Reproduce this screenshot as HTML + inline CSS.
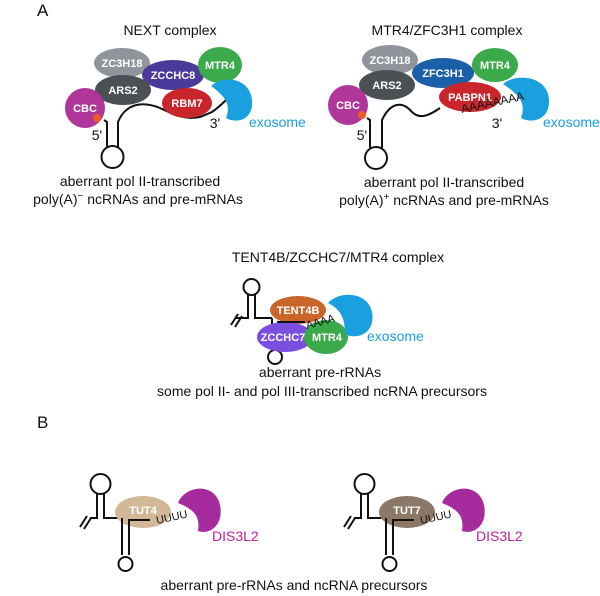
<!DOCTYPE html>
<html><head><meta charset="utf-8"><style>
html,body{margin:0;padding:0;background:#fff;}
svg{display:block;}
text{font-family:"Liberation Sans",Arial,sans-serif;}
.w{fill:#fff;font-weight:bold;font-size:11px;text-anchor:middle;}
.b{fill:#111;font-size:14px;text-anchor:middle;}
.ln{fill:none;stroke:#111;stroke-width:2;}
</style></head><body>
<svg width="600" height="596" viewBox="0 0 600 596" xmlns="http://www.w3.org/2000/svg">
<text x="37" y="16" font-size="17" fill="#111">A</text>
<text x="170" y="35" class="b">NEXT complex</text>
<text x="447" y="35" class="b">MTR4/ZFC3H1 complex</text>

<!-- NEXT -->
<path class="ln" d="M104,120 L107,122 L107,147 M118,147 L118,122 C125,105 140,100 160,108 C175,115 185,120 200,117 L212,112 C218,108 222,104 226,100"/>
<circle cx="112.5" cy="157" r="11" class="ln"/>
<ellipse cx="122" cy="63" rx="28" ry="15" fill="#8f959a"/>
<ellipse cx="173" cy="75" rx="31" ry="15" fill="#4b3a9c"/>
<ellipse cx="123" cy="90" rx="28" ry="15" fill="#4a5053"/>
<ellipse cx="220" cy="65" rx="22" ry="18" fill="#3aaa4a"/>
<ellipse cx="187" cy="103" rx="25" ry="15" fill="#c8262b"/>
<circle cx="85" cy="108" r="20" fill="#b0379a"/>
<circle cx="97" cy="118" r="4" fill="#f05a28"/>
<path d="M211,86 C223,75 246,78 251,95 C257,118 238,125 226,118 C231,105 226,97 211,86 Z" fill="#1aa0df"/>
<text x="122" y="67" class="w">ZC3H18</text>
<text x="173" y="79" class="w">ZCCHC8</text>
<text x="123" y="94" class="w">ARS2</text>
<text x="220" y="69" class="w">MTR4</text>
<text x="187" y="107" class="w">RBM7</text>
<text x="85" y="112" class="w">CBC</text>
<text x="215" y="128" font-size="14" text-anchor="middle" fill="#111">3'</text>
<text x="97" y="140" font-size="14" text-anchor="middle" fill="#111">5'</text>
<text x="249" y="127" font-size="14" fill="#1aa0df">exosome</text>
<text x="140" y="186" class="b">aberrant pol II-transcribed</text>
<text x="138" y="204" class="b">poly(A)<tspan font-size="10" dy="-5">−</tspan><tspan dy="5"> ncRNAs and pre-mRNAs</tspan></text>

<!-- MTR4/ZFC3H1 -->
<path class="ln" d="M367,118 L370,120 L370,148 M382,148 L382,120 C390,103 402,100 412,112 C420,120 430,115 440,108"/>
<circle cx="376" cy="158" r="11" class="ln"/>
<ellipse cx="390" cy="60" rx="28" ry="15" fill="#8f959a"/>
<ellipse cx="443" cy="73" rx="31" ry="15" fill="#1a5fa8"/>
<ellipse cx="387" cy="85" rx="28" ry="15" fill="#4a5053"/>
<ellipse cx="495" cy="65" rx="23" ry="17" fill="#3aaa4a"/>
<ellipse cx="470" cy="97" rx="31" ry="15" fill="#c8262b"/>
<circle cx="348" cy="105" r="20" fill="#b0379a"/>
<circle cx="362" cy="115" r="4" fill="#f05a28"/>
<path d="M503,84 C516,73 543,76 548,94 C554,118 533,125 521,118 C526,104 521,96 503,84 Z" fill="#1aa0df"/>
<text x="390" y="64" class="w">ZC3H18</text>
<text x="443" y="77" class="w">ZFC3H1</text>
<text x="387" y="89" class="w">ARS2</text>
<text x="495" y="69" class="w">MTR4</text>
<text x="470" y="101" class="w">PABPN1</text>
<text x="348" y="109" class="w">CBC</text>
<text x="462" y="113" font-size="12" fill="#111" transform="rotate(-12 462 113)">AAAAAAAA</text>
<text x="497" y="128" font-size="14" text-anchor="middle" fill="#111">3'</text>
<text x="362" y="140" font-size="14" text-anchor="middle" fill="#111">5'</text>
<text x="543" y="127" font-size="14" fill="#1aa0df">exosome</text>
<text x="444" y="187" class="b">aberrant pol II-transcribed</text>
<text x="444" y="205" class="b">poly(A)<tspan font-size="10" dy="-5">+</tspan><tspan dy="5"> ncRNAs and pre-mRNAs</tspan></text>

<!-- TENT4B -->
<text x="338" y="262" class="b">TENT4B/ZCCHC7/MTR4 complex</text>
<path class="ln" d="M248,295 L248,318 L236,318 M231,325 L238,314 M235,327 L242,316 M255,295 L255,318 L272,318 M272,318 L272,350 M278,350 L278,322 L308,322"/>
<circle cx="251.5" cy="287" r="8" class="ln"/>
<circle cx="275" cy="357" r="7" class="ln"/>
<ellipse cx="298" cy="310" rx="28" ry="14" fill="#c8662a"/>
<ellipse cx="285" cy="337" rx="28" ry="15" fill="#7a4fe0"/>
<ellipse cx="326" cy="337" rx="22" ry="17" fill="#3aaa4a"/>
<path d="M328,303 C340,290 368,292 372,312 C376,335 355,340 345,334 C345,320 342,310 328,303 Z" fill="#1aa0df"/>
<path class="ln" d="M278,322 L305,322"/>
<text x="298" y="314" class="w">TENT4B</text>
<text x="283" y="341" class="w">ZCCHC7</text>
<text x="327" y="341" class="w">MTR4</text>
<text x="307" y="329" font-size="11" fill="#111" transform="rotate(-15 307 329)">AAAA</text>
<text x="367" y="341" font-size="14" fill="#1aa0df">exosome</text>
<text x="320" y="377" class="b">aberrant pre-rRNAs</text>
<text x="322" y="396" class="b">some pol II- and pol III-transcribed ncRNA precursors</text>

<!-- B -->
<text x="37" y="428" font-size="17" fill="#111">B</text>
<g>
<path class="ln" d="M97,493 L97,518 L90,518 M80,527 L87,516 M84,529 L91,518 M104,493 L104,518 L122,518"/>
<circle cx="100.5" cy="484" r="10" class="ln"/>
<ellipse cx="143" cy="512" rx="28" ry="16" fill="#d2b896"/>
<path class="ln" d="M122,518 L122,555 M129,555 L129,520 L150,520"/>
<circle cx="125.5" cy="564" r="7" class="ln"/>
<text x="143" y="514" class="w" fill="#f5efe6">TUT4</text>
<text x="157" y="524" font-size="11" fill="#111" transform="rotate(-12 157 524)">UUUU</text>
<path d="M178,503 C185,485 215,482 220,505 C224,525 210,535 198,531 C200,518 196,510 178,503 Z" fill="#a62b9c"/>
<text x="212" y="541" font-size="14" fill="#c0209f">DIS3L2</text>
</g>
<g transform="translate(264,0)">
<path class="ln" d="M97,493 L97,518 L90,518 M80,527 L87,516 M84,529 L91,518 M104,493 L104,518 L122,518"/>
<circle cx="100.5" cy="484" r="10" class="ln"/>
<ellipse cx="143" cy="512" rx="28" ry="16" fill="#8c7866"/>
<path class="ln" d="M122,518 L122,555 M129,555 L129,520 L150,520"/>
<circle cx="125.5" cy="564" r="7" class="ln"/>
<text x="143" y="514" class="w" fill="#f0ebe6">TUT7</text>
<text x="157" y="524" font-size="11" fill="#111" transform="rotate(-12 157 524)">UUUU</text>
<path d="M178,503 C185,485 215,482 220,505 C224,525 210,535 198,531 C200,518 196,510 178,503 Z" fill="#a62b9c"/>
<text x="212" y="541" font-size="14" fill="#c0209f">DIS3L2</text>
</g>
<text x="294" y="590" class="b">aberrant pre-rRNAs and ncRNA precursors</text>
</svg>
</body></html>
